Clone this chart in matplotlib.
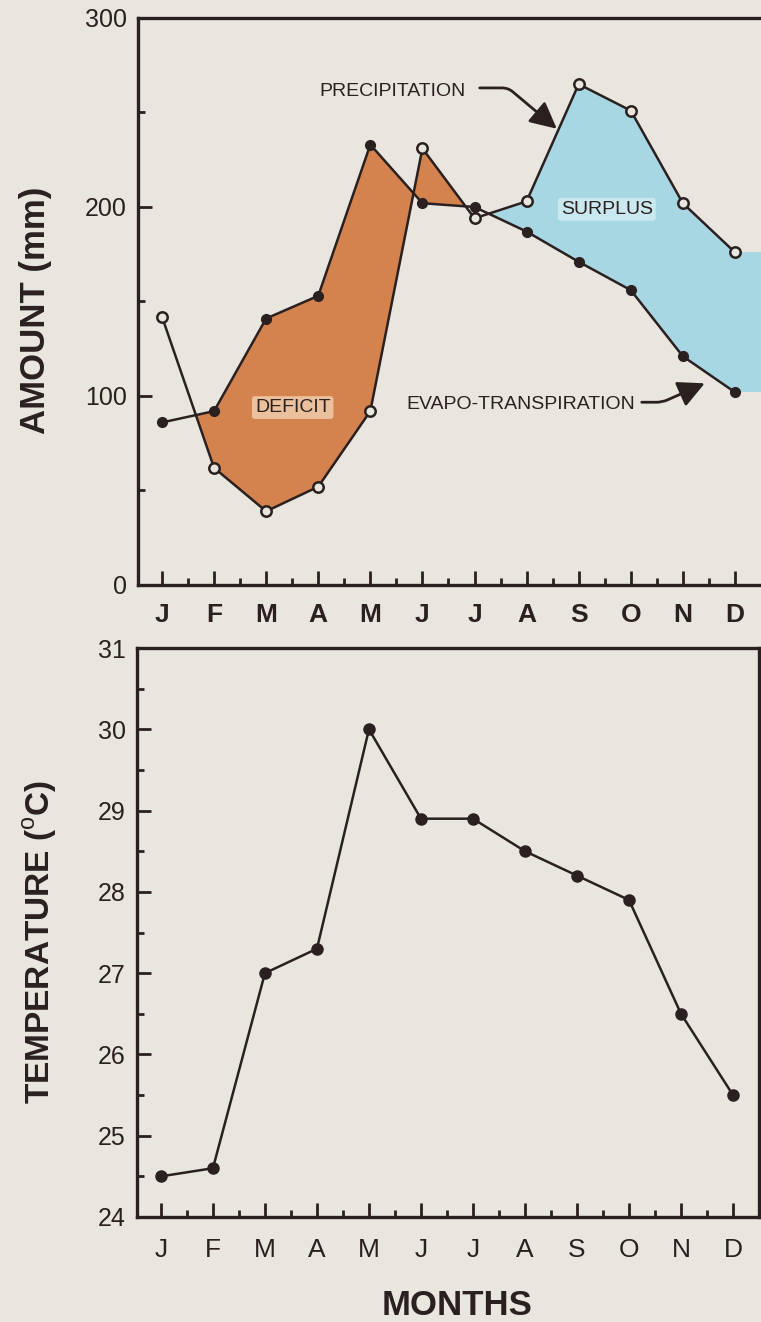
import matplotlib
matplotlib.use("Agg")
import matplotlib.pyplot as plt
import numpy as np
from matplotlib.ticker import FixedLocator

plt.rcParams['font.family'] = ['Liberation Sans', 'DejaVu Sans']
plt.rcParams['mathtext.fontset'] = 'custom'
plt.rcParams['mathtext.rm'] = 'Liberation Sans'
plt.rcParams['mathtext.bf'] = 'Liberation Sans:bold'

months = ['J', 'F', 'M', 'A', 'M', 'J', 'J', 'A', 'S', 'O', 'N', 'D']
precipitation = [142, 62, 39, 52, 92, 231, 194, 203, 265, 251, 202, 176]
evapotranspiration = [86, 92, 141, 153, 233, 202, 200, 187, 171, 156, 121, 102]
temperature = [24.5, 24.6, 27.0, 27.3, 30.0, 28.9, 28.9, 28.5, 28.2, 27.9, 26.5, 25.5]

amount_ticks = [0, 100, 200, 300]
temp_ticks = [24, 25, 26, 27, 28, 29, 30, 31]

BG = '#E9E6E0'
INK = '#2B2020'
ORANGE = '#D4834E'
BLUE = '#A8D7E4'

W, H = 761, 1322
fig = plt.figure(figsize=(W / 100, H / 100), dpi=100, facecolor=BG)

def frac(l, t, r, b):
    return [l / W, 1 - b / H, (r - l) / W, (b - t) / H]

ax1 = fig.add_axes(frac(138, 18, 761, 585))
ax2 = fig.add_axes(frac(137, 648, 759, 1217))

x = np.arange(len(months))
P = np.array(precipitation, float)
E = np.array(evapotranspiration, float)
T = np.array(temperature, float)
xmin, xmax = -0.46, 11.5

for ax in (ax1, ax2):
    ax.set_facecolor(BG)
    ax.set_xlim(xmin, xmax)
    for s in ax.spines.values():
        s.set_linewidth(2.4)
        s.set_color(INK)
    ax.xaxis.set_major_locator(FixedLocator(x))
    ax.xaxis.set_minor_locator(FixedLocator(x[:-1] + 0.5))
    ax.set_xticks(x)
    ax.tick_params(which='major', direction='in', length=10, width=2, color=INK,
                   labelcolor=INK, labelsize=18)
    ax.tick_params(which='minor', direction='in', length=5, width=2, color=INK)
    ax.tick_params(axis='y', which='major', pad=8)

# --- top panel ---
ax1.spines['right'].set_visible(False)
ax1.set_ylim(0, 300)
ax1.yaxis.set_major_locator(FixedLocator(amount_ticks))
ax1.yaxis.set_minor_locator(FixedLocator([50, 150, 250]))
ax1.set_xticklabels(months, fontweight='bold', fontsize=19)
ax1.tick_params(axis='x', which='major', pad=13)

# deficit (orange)
ax1.fill_between(x[:6], P[:6], E[:6], where=E[:6] >= P[:6], interpolate=True,
                 color=ORANGE, lw=0, zorder=1)
ax1.fill_between(x[4:7], P[4:7], E[4:7], where=P[4:7] >= E[4:7], interpolate=True,
                 color=ORANGE, lw=0, zorder=1)
# surplus (blue)
ax1.fill_between(x[6:], P[6:], E[6:], where=P[6:] >= E[6:], interpolate=True,
                 color=BLUE, lw=0, zorder=1)
ax1.fill_between([x[-1], xmax], [P[-1], P[-1]], [E[-1], E[-1]],
                 color=BLUE, lw=0, zorder=1, clip_on=True)

ax1.plot(x, E, color=INK, lw=1.8, marker='o', ms=7, mfc=INK, mec=INK, zorder=3)
ax1.plot(x, P, color=INK, lw=1.8, marker='o', ms=7.5, mfc=BG, mec=INK, mew=1.8, zorder=4)

ax1.text(2.51, 91.5, 'DEFICIT', fontsize=14, color=INK, ha='center', va='baseline', zorder=5,
         bbox=dict(boxstyle='round,pad=0.15', fc='#EEC7A6', ec='none', alpha=0.9))
ax1.text(8.54, 196.4, 'SURPLUS', fontsize=14, color=INK, ha='center', va='baseline', zorder=5,
         bbox=dict(boxstyle='round,pad=0.15', fc='#CDEBF2', ec='none', alpha=0.9))
ax1.text(4.42, 258.9, 'PRECIPITATION', fontsize=14, color=INK, ha='center', va='baseline', zorder=5)
ax1.text(6.89, 93.3, 'EVAPO-TRANSPIRATION', fontsize=14, color=INK, ha='center', va='baseline', zorder=5)

ax1.annotate('', xy=(7.58, 241.4), xytext=(6.10, 263),
             arrowprops=dict(arrowstyle='-|>,head_length=0.9,head_width=0.45', color=INK, lw=2,
                             shrinkA=0, shrinkB=0, mutation_scale=18,
                             connectionstyle='angle,angleA=0,angleB=140,rad=6'), zorder=6)
ax1.annotate('', xy=(10.42, 106.7), xytext=(9.21, 96.7),
             arrowprops=dict(arrowstyle='-|>,head_length=0.9,head_width=0.45', color=INK, lw=2,
                             shrinkA=0, shrinkB=0, mutation_scale=18,
                             connectionstyle='angle,angleA=0,angleB=24,rad=6'), zorder=6)

# --- bottom panel ---
ax2.set_ylim(24, 31)
ax2.yaxis.set_major_locator(FixedLocator(temp_ticks))
ax2.yaxis.set_minor_locator(FixedLocator(np.array(temp_ticks[:-1]) + 0.5))
ax2.set_xticklabels(months, fontsize=19)
ax2.tick_params(axis='x', which='major', pad=15)
ax2.plot(x, T, color=INK, lw=1.8, marker='o', ms=8, mfc=INK, mec=INK, zorder=3)

# axis titles
fig.text(45 / W, 1 - 310 / H, 'AMOUNT (mm)', rotation=90, rotation_mode='anchor',
         ha='center', va='baseline', fontsize=25, fontweight='bold', color=INK)
fig.text(50 / W, 1 - 942 / H, r'TEMPERATURE ($^{\mathrm{o}}$C)', rotation=90, rotation_mode='anchor',
         ha='center', va='baseline', fontsize=24, fontweight='bold', color=INK)
fig.text(457 / W, 1 - 1315 / H, 'MONTHS', ha='center', va='baseline',
         fontsize=25, fontweight='bold', color=INK)

fig.savefig('out.png', dpi=100, facecolor=BG)
